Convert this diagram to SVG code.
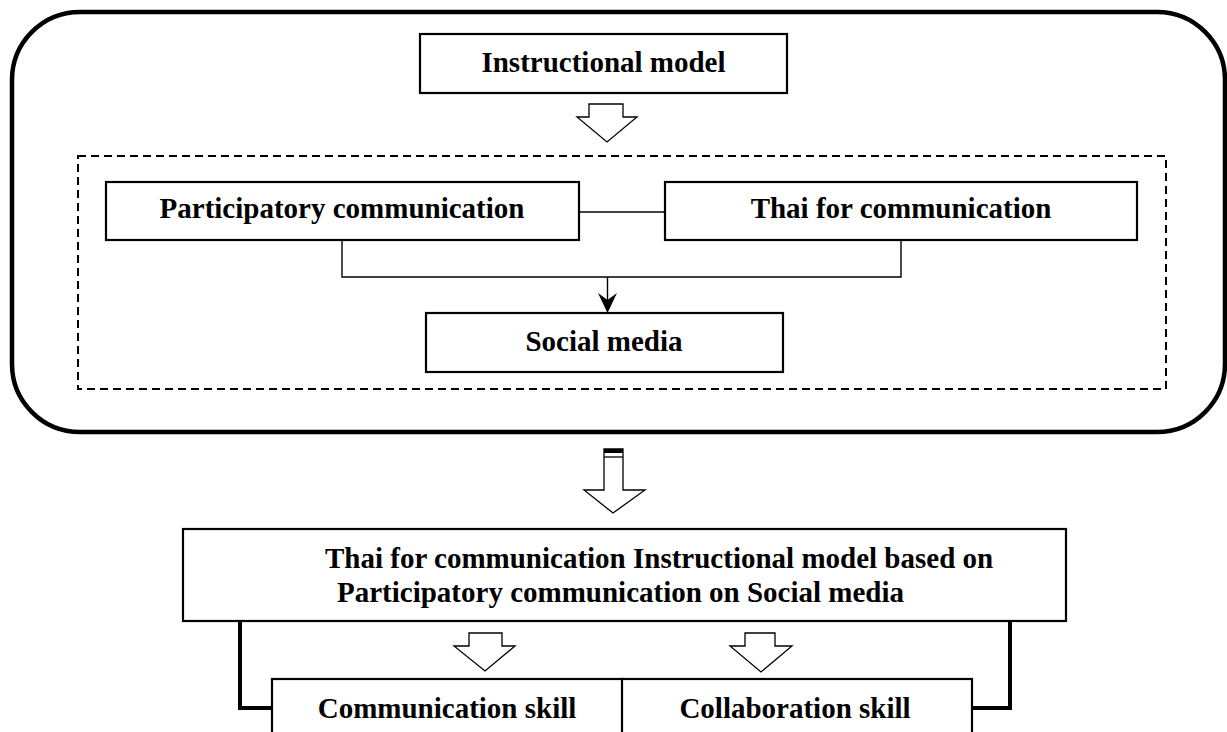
<svg xmlns="http://www.w3.org/2000/svg" width="1227" height="732" viewBox="0 0 1227 732">
<style>
.box{fill:#fff;stroke:#000;stroke-width:2.2}
.t{font-family:"Liberation Serif","Times New Roman",serif;font-weight:bold;font-size:29px;fill:#000}
.hol{fill:#fff;stroke:#000;stroke-width:1.3;stroke-linejoin:miter}
.thin{fill:none;stroke:#000;stroke-width:1.4}
.thick{fill:none;stroke:#000;stroke-width:4}
</style>
<rect width="1227" height="732" fill="#fff"/>
<g id="frame">
<rect x="12" y="12" width="1213" height="420" rx="68" ry="68" fill="none" stroke="#000" stroke-width="4.5"/>
<rect x="78" y="156" width="1088" height="233" fill="none" stroke="#000" stroke-width="2" stroke-dasharray="8 5"/>
</g>
<g id="connectors">
<path class="hol" d="M589,104 H623 V117 H637 L607,142 L577,117 H589 Z"/>
<line class="thin" x1="579" y1="212" x2="665" y2="212"/>
<path class="thin" d="M342,240 V277 H901 V240"/>
<line class="thin" x1="607.5" y1="277" x2="607.5" y2="300"/>
<path d="M598,293 L607.5,300 L617,293 L607.5,313 Z" fill="#000"/>
<path class="hol" d="M604,449 H623 V490 H645 L613,513 L584,490 H604 Z"/>
<rect x="604" y="449" width="19" height="4" fill="#000"/>
<line x1="604" y1="457" x2="623" y2="457" stroke="#000" stroke-width="1.3"/>
<path class="hol" d="M469,633 H502 V646 H515 L485,671 L454,646 H469 Z"/>
<path class="hol" d="M745,633 H775 V646 H792 L761,672 L730,646 H745 Z"/>
<path class="thick" d="M240,621 V708 H272"/>
<path class="thick" d="M1010,621 V708 H972"/>
</g>
<g id="instructional-model">
<rect class="box" x="420" y="34" width="367" height="59"/>
<text class="t" x="603.5" y="72" text-anchor="middle">Instructional model</text>
</g>
<g id="participatory-communication">
<rect class="box" x="106" y="182" width="473" height="58"/>
<text class="t" x="342" y="218" text-anchor="middle">Participatory communication</text>
</g>
<g id="thai-for-communication">
<rect class="box" x="665" y="182" width="472" height="58"/>
<text class="t" x="901" y="218" text-anchor="middle">Thai for communication</text>
</g>
<g id="social-media">
<rect class="box" x="426" y="313" width="357" height="59"/>
<text class="t" x="604" y="351" text-anchor="middle">Social media</text>
</g>
<g id="model">
<rect class="box" x="183" y="529" width="883" height="92"/>
<text class="t" x="325" y="568">Thai for communication Instructional model based on</text>
<text class="t" x="337" y="602">Participatory communication on Social media</text>
</g>
<g id="communication-skill">
<rect class="box" x="272" y="679" width="351" height="70"/>
<text class="t" x="447" y="718" text-anchor="middle">Communication skill</text>
</g>
<g id="collaboration-skill">
<rect class="box" x="622" y="679" width="350" height="70"/>
<text class="t" x="795" y="718" text-anchor="middle">Collaboration skill</text>
</g>
</svg>
